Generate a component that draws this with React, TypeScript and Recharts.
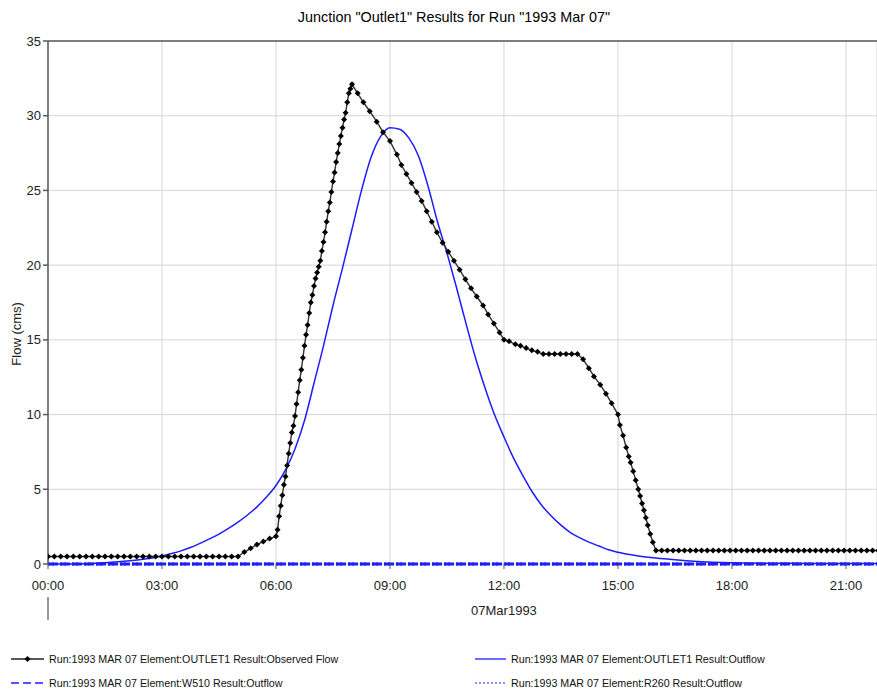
import React from 'react';
import { LineChart, Line, XAxis, YAxis, CartesianGrid, ReferenceLine } from 'recharts';

// minutes after 00:00 on 07Mar1993, flow in cms
// observed flow (OUTLET1), one pair per plotted marker
const obsBase: [number, number][] = [
  [0, 0.5], [10, 0.5], [20, 0.5], [30, 0.5], [40, 0.5], [50, 0.5], [60, 0.5], [70, 0.5],
  [80, 0.5], [90, 0.5], [100, 0.5], [110, 0.5], [120, 0.5], [130, 0.5], [140, 0.5], [150, 0.5],
  [160, 0.5], [170, 0.5], [180, 0.5], [190, 0.5], [200, 0.5], [210, 0.5], [220, 0.5], [230, 0.5],
  [240, 0.5], [250, 0.5], [260, 0.5], [270, 0.5], [280, 0.5], [290, 0.5], [300, 0.5],
  [310, 0.8], [320, 1.05], [330, 1.3], [340, 1.5], [350, 1.7], [360, 1.85],
];

const obsRise: [number, number][] = [
  [362.5, 2.3], [365, 3.2], [367.5, 3.9], [370, 4.6], [372.5, 5.3], [375, 5.85], [377.5, 6.6],
  [380, 7.4], [382.5, 8.1], [385, 8.8], [387.5, 9.25], [390, 9.9], [392.5, 10.7], [395, 11.5],
  [397.5, 12.3], [400, 13.0], [402.5, 13.8], [405, 14.6], [407.5, 15.35], [410, 16.0],
  [412.5, 16.8], [415, 17.5], [417.5, 18.0], [420, 18.6], [422.5, 19.1], [425, 19.5],
  [427.5, 19.9], [430, 20.3], [432.5, 20.95], [435, 21.55], [437.5, 22.2], [440, 22.9],
  [442.5, 23.6], [445, 24.2], [447.5, 24.9], [450, 25.6], [452.5, 26.2], [455, 26.9],
  [457.5, 27.5], [460, 28.1], [462.5, 28.65], [465, 29.2], [467.5, 29.75], [470, 30.2],
  [472.5, 30.9], [475, 31.5], [477.5, 31.8], [480, 32.1],
];

const obsRecession: [number, number][] = [
  [489, 31.5], [498, 30.9], [508, 30.3], [519, 29.6], [529, 28.9], [540, 28.3], [551, 27.4],
  [558, 26.7], [566, 26.1], [574, 25.5], [582, 24.9], [590, 24.3], [598, 23.6], [606, 22.9],
  [614, 22.2], [623, 21.5], [632, 20.9], [641, 20.3], [650, 19.7], [659, 19.05], [668, 18.45],
  [677, 17.9], [687, 17.3], [695, 16.7], [704, 16.1], [713, 15.5], [720, 15.0],
];

const obsPlateau: [number, number][] = [
  [728, 14.9], [738, 14.7], [746, 14.6], [755, 14.45], [764, 14.3], [773, 14.2], [782, 14.05],
  [791, 14.05], [800, 14.05], [809, 14.05], [818, 14.05], [827, 14.05], [836, 14.05],
];

const obsDrop: [number, number][] = [
  [845, 13.7], [854, 13.1], [862, 12.55], [872, 12.0], [881, 11.4], [890, 10.75], [900, 10.0],
  [903, 9.3], [908, 8.6], [913, 7.8], [917, 7.2], [920, 6.8], [924, 6.2], [928, 5.6],
  [932, 5.0], [935, 4.55], [938, 4.05], [941, 3.6], [944, 3.1], [947, 2.6], [951, 2.0],
  [955, 1.45], [960, 0.9],
];

const obsTail: [number, number][] = [
  [969, 0.9], [978, 0.9], [987, 0.9], [996, 0.9], [1005, 0.9], [1014, 0.9], [1023, 0.9],
  [1032, 0.9], [1041, 0.9], [1050, 0.9], [1059, 0.9], [1068, 0.9], [1077, 0.9], [1086, 0.9],
  [1095, 0.9], [1104, 0.9], [1113, 0.9], [1122, 0.9], [1131, 0.9], [1140, 0.9], [1149, 0.9],
  [1158, 0.9], [1167, 0.9], [1176, 0.9], [1185, 0.9], [1194, 0.9], [1203, 0.9], [1212, 0.9],
  [1221, 0.9], [1230, 0.9], [1239, 0.9], [1248, 0.9], [1257, 0.9], [1266, 0.9], [1275, 0.9],
  [1284, 0.9], [1293, 0.9], [1302, 0.9], [1311, 0.9],
];

// computed outflow at OUTLET1
const outMinutes = [
  0, 30, 60, 90, 120, 150, 180, 195, 210, 225, 240, 255, 270, 285, 300, 315, 330, 345, 360,
  375, 390, 405, 420, 435, 450, 465, 480, 495, 510, 525, 540, 555, 570, 585, 600, 615, 630,
  645, 660, 675, 690, 705, 720, 735, 750, 765, 780, 795, 810, 825, 840, 855, 870, 885, 900,
  930, 960, 990, 1020, 1050, 1080, 1140, 1200, 1260, 1320,
];
const outFlow = [
  0, 0, 0.02, 0.08, 0.18, 0.32, 0.54, 0.7, 0.88, 1.1, 1.38, 1.68, 2.0, 2.38, 2.8, 3.28, 3.82,
  4.48, 5.25, 6.3, 7.7, 9.6, 12.1, 14.6, 17.3, 19.8, 22.4, 25.0, 27.2, 28.6, 29.2, 29.1,
  28.5, 27.3, 25.3, 22.9, 20.8, 18.5, 16.1, 13.8, 11.8, 10.0, 8.5, 7.1, 5.9, 4.8, 3.9, 3.2,
  2.6, 2.1, 1.75, 1.45, 1.2, 0.95, 0.78, 0.55, 0.4, 0.28, 0.18, 0.12, 0.08, 0.05, 0.04, 0.03,
  0.03,
];

// W510 and R260 outflows stay at zero
const w510Minutes = [0, 360, 720, 1080, 1320];
const w510Flow = [0, 0, 0, 0, 0];
const r260Minutes = [0, 360, 720, 1080, 1320];
const r260Flow = [0, 0, 0, 0, 0];

const timeTicks = [0, 180, 360, 540, 720, 900, 1080, 1260];
const flowTicks = [0, 5, 10, 15, 20, 25, 30, 35];
const dayStart = 0;
const dayMid = 720;
const dayLabel = '07Mar1993';

const title = 'Junction "Outlet1" Results for Run "1993 Mar 07"';
const legendNames = [
  'Run:1993 MAR 07 Element:OUTLET1 Result:Observed Flow',
  'Run:1993 MAR 07 Element:OUTLET1 Result:Outflow',
  'Run:1993 MAR 07 Element:W510 Result:Outflow',
  'Run:1993 MAR 07 Element:R260 Result:Outflow',
];

const obsData = [...obsBase, ...obsRise, ...obsRecession, ...obsPlateau, ...obsDrop, ...obsTail].map(
  ([t, flow]) => ({ t, flow })
);
const outData = outMinutes.map((t, i) => ({ t, flow: outFlow[i] }));
const w510Data = w510Minutes.map((t, i) => ({ t, flow: w510Flow[i] }));
const r260Data = r260Minutes.map((t, i) => ({ t, flow: r260Flow[i] }));

const FONT = '"Liberation Sans", Arial, sans-serif';
const BLUE = '#1c1cff';
const AXIS = '#5a5a5a';

const fmtTime = (m: number) => `${String(Math.floor(m / 60)).padStart(2, '0')}:00`;

const Diamond = (props: any) => {
  const { cx, cy, index } = props;
  if (cx == null || cy == null) return null;
  const r = 3;
  return (
    <path
      key={`obs-${index}`}
      d={`M${cx},${cy - r}L${cx + r},${cy}L${cx},${cy + r}L${cx - r},${cy}Z`}
      fill="#000"
    />
  );
};

// time label, plus the day marker line at 00:00 and the date under 12:00
const TimeTick = (props: any) => {
  const { x, y, payload } = props;
  return (
    <g>
      <text x={x} y={y} dy="0.71em" textAnchor="middle" fontSize={13} fill="#222" fontFamily={FONT}>
        {fmtTime(payload.value)}
      </text>
      {payload.value === dayStart && <line x1={x} x2={x} y1={y + 16} y2={y + 39} stroke="#333" />}
      {payload.value === dayMid && (
        <text x={x} y={y + 34} textAnchor="middle" fontSize={13} fill="#222" fontFamily={FONT}>
          {dayLabel}
        </text>
      )}
    </g>
  );
};

const FlowLabel = (props: any) => {
  const { viewBox } = props;
  const cx = 17;
  const cy = viewBox.y + viewBox.height * 0.56;
  return (
    <text
      x={cx}
      y={cy}
      transform={`rotate(-90 ${cx} ${cy})`}
      textAnchor="middle"
      dominantBaseline="central"
      fontSize={13}
      fill="#222"
      fontFamily={FONT}
    >
      Flow (cms)
    </text>
  );
};

const Legend = () => {
  const d = (cx: number, cy: number) => `M${cx},${cy - 3}L${cx + 3},${cy}L${cx},${cy + 3}L${cx - 3},${cy}Z`;
  return (
    <svg width={877} height={691} style={{ position: 'absolute', left: 0, top: 0, pointerEvents: 'none' }}>
      <text x={454} y={22} textAnchor="middle" fontSize={14.4} fill="#000" fontFamily={FONT}>
        {title}
      </text>
      <g fontSize={10.7} fill="#111" fontFamily={FONT}>
        <line x1={11} x2={44} y1={659} y2={659} stroke="#222" strokeWidth={1.3} />
        <path d={d(27.5, 659)} fill="#000" />
        <text x={49} y={663}>{legendNames[0]}</text>
        <line x1={475} x2={506} y1={659} y2={659} stroke={BLUE} strokeWidth={1.3} />
        <text x={511} y={663}>{legendNames[1]}</text>
        <line x1={11} x2={44} y1={683} y2={683} stroke={BLUE} strokeWidth={1.5} strokeDasharray="8 4" />
        <text x={49} y={687}>{legendNames[2]}</text>
        <line x1={475} x2={506} y1={683} y2={683} stroke={BLUE} strokeWidth={1.2} strokeDasharray="2 2" />
        <text x={511} y={687}>{legendNames[3]}</text>
      </g>
    </svg>
  );
};

export default function App() {
  return (
    <div
      style={{
        position: 'absolute',
        left: 0,
        top: 0,
        width: 877,
        height: 691,
        background: '#fff',
        fontFamily: FONT,
        overflow: 'hidden',
      }}
    >
      <LineChart width={877} height={691} margin={{ top: 41, right: 0, left: 0, bottom: 57 }}>
        <CartesianGrid stroke="#d6d6d6" strokeWidth={1} />
        <XAxis
          dataKey="t"
          type="number"
          domain={[0, 1309]}
          allowDataOverflow
          ticks={timeTicks}
          interval={0}
          height={70}
          tickSize={5}
          tickMargin={12}
          axisLine={false}
          stroke={AXIS}
          tick={<TimeTick />}
        />
        <YAxis
          type="number"
          domain={[0, 35]}
          ticks={flowTicks}
          interval={0}
          width={48}
          tickSize={5}
          tickMargin={2}
          stroke={AXIS}
          strokeWidth={1.5}
          tick={{ fill: '#222', fontSize: 13, fontFamily: FONT }}
          label={<FlowLabel />}
        />
        <ReferenceLine y={35} stroke={AXIS} strokeWidth={1.5} />
        <Line
          data={w510Data}
          dataKey="flow"
          type="linear"
          stroke={BLUE}
          strokeWidth={3}
          strokeDasharray="8 4"
          dot={false}
          isAnimationActive={false}
        />
        <Line
          data={r260Data}
          dataKey="flow"
          type="linear"
          stroke={BLUE}
          strokeWidth={3}
          strokeDasharray="2 2"
          dot={false}
          isAnimationActive={false}
        />
        <Line
          data={outData}
          dataKey="flow"
          type="monotone"
          stroke={BLUE}
          strokeWidth={1.5}
          dot={false}
          isAnimationActive={false}
        />
        <Line
          data={obsData}
          dataKey="flow"
          type="linear"
          stroke="#333"
          strokeWidth={1.4}
          dot={<Diamond />}
          isAnimationActive={false}
        />
      </LineChart>
      <Legend />
    </div>
  );
}
